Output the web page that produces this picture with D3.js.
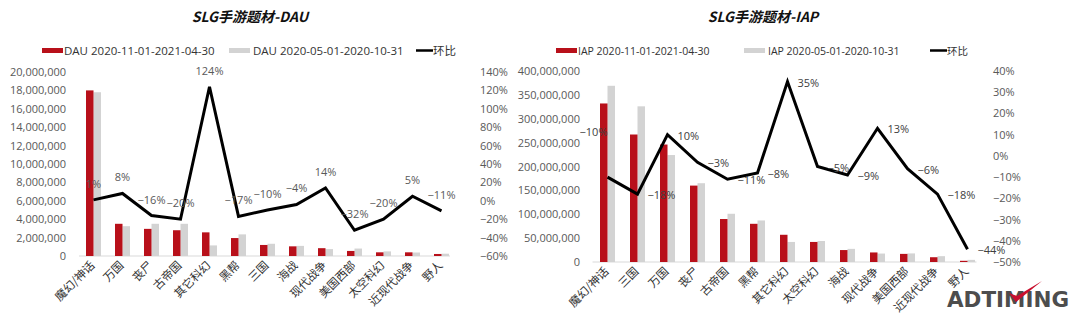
<!DOCTYPE html>
<html>
<head>
<meta charset="utf-8">
<script src="https://cdn.jsdelivr.net/npm/d3@7"></script>
<style>
  html, body { margin: 0; padding: 0; background: #fff; }
  svg { display: block; }
  text { font-family: "Open Sans", "Noto Sans CJK SC", sans-serif; }
</style>
</head>
<body>
<svg id="chart" width="1080" height="319"></svg>
<script>
// ---- DAU panel data ----
const dauCategories = ["魔幻/神话", "万国", "丧尸", "古帝国", "其它科幻", "黑帮", "三国", "海战", "现代战争", "美国西部", "太空科幻", "近现代战争", "野人"];
const dauCurrent  = [18.0e6, 3.5e6, 2.95e6, 2.8e6, 2.57e6, 1.95e6, 1.2e6, 1.05e6, 0.85e6, 0.55e6, 0.4e6, 0.4e6, 0.22e6];
const dauPrevious = [17.8e6, 3.24e6, 3.5e6, 3.5e6, 1.15e6, 2.35e6, 1.33e6, 1.1e6, 0.75e6, 0.81e6, 0.5e6, 0.38e6, 0.25e6];
const dauChange   = [0.01, 0.08, -0.16, -0.20, 1.24, -0.17, -0.10, -0.04, 0.14, -0.32, -0.20, 0.05, -0.11];
const dauLeftTicks  = [0, 2e6, 4e6, 6e6, 8e6, 10e6, 12e6, 14e6, 16e6, 18e6, 20e6];
const dauRightTicks = [-0.6, -0.4, -0.2, 0, 0.2, 0.4, 0.6, 0.8, 1.0, 1.2, 1.4];

// ---- IAP panel data ----
const iapCategories = ["魔幻/神话", "三国", "万国", "丧尸", "古帝国", "黑帮", "其它科幻", "太空科幻", "海战", "现代战争", "美国西部", "近现代战争", "野人"];
const iapCurrent  = [332e6, 267e6, 246e6, 160e6, 90e6, 80e6, 57e6, 42e6, 25e6, 20e6, 17e6, 10e6, 2.5e6];
const iapPrevious = [369e6, 326e6, 224e6, 165e6, 101e6, 87e6, 42e6, 44e6, 27.5e6, 17.7e6, 18e6, 12.2e6, 4.5e6];
const iapChange   = [-0.10, -0.18, 0.10, -0.03, -0.11, -0.08, 0.35, -0.05, -0.09, 0.13, -0.06, -0.18, -0.44];
const iapLeftTicks  = [0, 50e6, 100e6, 150e6, 200e6, 250e6, 300e6, 350e6, 400e6];
const iapRightTicks = [-0.5, -0.4, -0.3, -0.2, -0.1, 0, 0.1, 0.2, 0.3, 0.4];

const RED = "#b8101a", GREY = "#d3d3d3", AXIS_TXT = "#595959";

const svg = d3.select("#chart");

function panel(cfg) {
  const g = svg.append("g");
  const x = d3.scaleBand().domain(cfg.categories).range(cfg.xRange);
  const bw = cfg.barWidth;
  const y = d3.scaleLinear().domain(cfg.leftDomain).range(cfg.yRange);
  const y2 = d3.scaleLinear().domain(cfg.rightDomain).range(cfg.yRange);
  const cx = c => x(c) + x.bandwidth() / 2;

  // title
  g.append("text").attr("x", cfg.titleX).attr("y", 22)
    .attr("text-anchor", "middle").attr("font-size", 14)
    .attr("font-weight", 700).attr("font-style", "italic")
    .attr("fill", "#111")
    .style("font-family", "'Noto Sans CJK SC', sans-serif")
    .text(cfg.title);

  // legend
  const lg = g.append("g").attr("font-size", cfg.legendFont).attr("fill", "#333");
  const L = cfg.legend;
  lg.append("rect").attr("x", L[0]).attr("y", 48).attr("width", 21).attr("height", 5).attr("fill", RED);
  lg.append("text").attr("x", L[0] + 22).attr("y", 55).text(cfg.legendNames[0]);
  lg.append("rect").attr("x", L[1]).attr("y", 48).attr("width", 21).attr("height", 5).attr("fill", GREY);
  lg.append("text").attr("x", L[1] + 24).attr("y", 55).text(cfg.legendNames[1]);
  lg.append("line").attr("x1", L[2]).attr("x2", L[2] + 17).attr("y1", 50.5).attr("y2", 50.5)
    .attr("stroke", "#000").attr("stroke-width", 2.5);
  lg.append("text").attr("x", L[2] + 17).attr("y", 55)
    .style("font-family", "'Noto Sans CJK SC', sans-serif").text("环比");

  // left axis
  const la = g.append("g").attr("transform", `translate(${cfg.leftAxisX},0)`)
    .call(d3.axisLeft(y).tickValues(cfg.leftTicks).tickSize(0).tickPadding(0).tickFormat(d3.format(",")));
  la.select(".domain").remove();
  la.selectAll("text").attr("font-size", 11).attr("fill", AXIS_TXT).style("font-family", "'Open Sans', sans-serif");

  // right axis
  const ra = g.append("g").attr("transform", `translate(${cfg.rightAxisX},0)`)
    .call(d3.axisRight(y2).tickValues(cfg.rightTicks).tickSize(0).tickPadding(0).tickFormat(d3.format(".0%")));
  ra.select(".domain").remove();
  ra.selectAll("text").attr("font-size", 11).attr("fill", AXIS_TXT).style("font-family", "'Open Sans', sans-serif");

  // baseline
  g.append("line").attr("x1", cfg.xRange[0]).attr("x2", cfg.xRange[1] - 6)
    .attr("y1", y(0)).attr("y2", y(0)).attr("stroke", "#d9d9d9").attr("stroke-width", 1);

  // bars
  g.selectAll(".prev").data(cfg.categories).join("rect")
    .attr("x", c => cx(c)).attr("width", bw)
    .attr("y", (c, i) => y(cfg.previous[i]))
    .attr("height", (c, i) => y(0) - y(cfg.previous[i]))
    .attr("fill", GREY);
  g.selectAll(".cur").data(cfg.categories).join("rect")
    .attr("x", c => cx(c) - bw).attr("width", bw)
    .attr("y", (c, i) => y(cfg.current[i]))
    .attr("height", (c, i) => y(0) - y(cfg.current[i]))
    .attr("fill", RED);

  // change line
  const pts = cfg.categories.map((c, i) => [cx(c), y2(cfg.change[i])]);
  g.append("path").attr("d", d3.line()(pts))
    .attr("fill", "none").attr("stroke", "#000").attr("stroke-width", 3)
    .attr("stroke-linejoin", "miter");

  // change labels
  g.selectAll(".lbl").data(cfg.change).join("text")
    .attr("font-size", 11).attr("fill", cfg.labelColor)
    .each(function (v, i) {
      const [px, py] = pts[i];
      const t = d3.select(this).text(d3.format(".0%")(v));
      if (cfg.labelPos === "above") {
        t.attr("x", px).attr("y", py - 12).attr("text-anchor", "middle");
      } else if (i === 0) {
        t.attr("x", px).attr("y", py - 41).attr("text-anchor", "end");
      } else {
        t.attr("x", px + 10).attr("y", py + 5).attr("text-anchor", "start");
      }
    });

  // category labels
  g.selectAll(".cat").data(cfg.categories).join("text")
    .attr("transform", c => `translate(${cx(c) + 2},${y(0) + 10}) rotate(-45)`)
    .attr("text-anchor", "end").attr("font-size", 11.5).attr("fill", "#333")
    .style("font-family", "'Noto Sans CJK SC', sans-serif")
    .text(c => c);
}

panel({
  title: "SLG手游题材-DAU", titleX: 250,
  legend: [42, 229, 416], legendFont: 11.5,
  legendNames: ["DAU 2020-11-01-2021-04-30", "DAU 2020-05-01-2020-10-31"],
  categories: dauCategories, current: dauCurrent, previous: dauPrevious, change: dauChange,
  leftDomain: [0, 20e6], rightDomain: [-0.6, 1.4], yRange: [256, 72],
  leftTicks: dauLeftTicks, rightTicks: dauRightTicks,
  xRange: [79, 456], barWidth: 7.5,
  leftAxisX: 66, rightAxisX: 480,
  labelPos: "above", labelColor: "#595959"
});

panel({
  title: "SLG手游题材-IAP", titleX: 763,
  legend: [556, 744, 930], legendFont: 10.5,
  legendNames: ["IAP 2020-11-01-2021-04-30", "IAP 2020-05-01-2020-10-31"],
  categories: iapCategories, current: iapCurrent, previous: iapPrevious, change: iapChange,
  leftDomain: [0, 400e6], rightDomain: [-0.5, 0.4], yRange: [262, 71],
  leftTicks: iapLeftTicks, rightTicks: iapRightTicks,
  xRange: [592.5, 982.5], barWidth: 7.5,
  leftAxisX: 580, rightAxisX: 993,
  labelPos: "right", labelColor: "#404040"
});

// brand mark, bottom right
const logo = svg.append("g");
logo.append("text").attr("x", 947).attr("y", 307)
  .attr("font-size", 22).attr("font-weight", 700).attr("fill", "#4d4d4d")
  .attr("textLength", 122).attr("lengthAdjust", "spacingAndGlyphs")
  .style("font-family", "'DejaVu Sans', sans-serif")
  .text("ADTIMING");
logo.append("path")
  .attr("d", "M1009,293 L1016,302 L1042,281 L1017,296 Z")
  .attr("fill", "#c8102e");
</script>
</body>
</html>
